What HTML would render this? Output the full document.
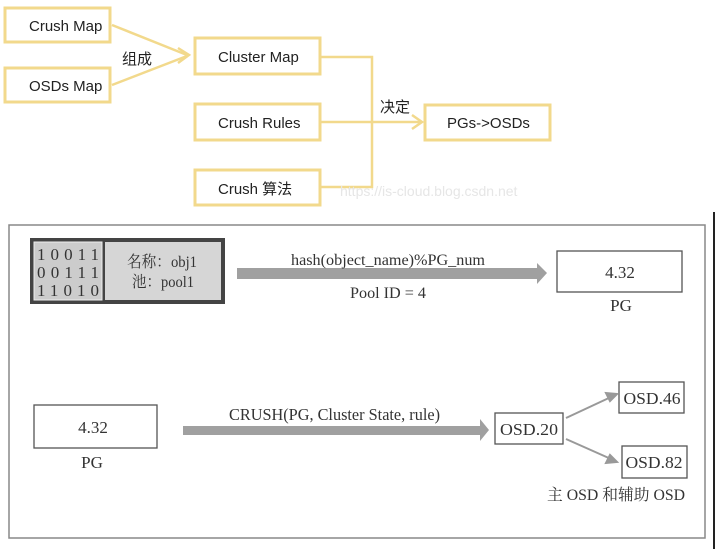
<!DOCTYPE html>
<html><head><meta charset="utf-8"><style>
html,body{margin:0;padding:0;background:#fff;}
svg{display:block;}
.y{fill:#fff;stroke:#f2d98c;stroke-width:3;}
.t{font-family:"Liberation Sans","Noto Sans CJK SC",sans-serif;font-size:15px;fill:#222;}
.s{font-family:"Liberation Serif","Noto Serif CJK SC",serif;fill:#333;}
.b{fill:#fff;stroke:#555;stroke-width:1.3;}
</style></head><body>
<svg width="717" height="549" viewBox="0 0 717 549" xmlns="http://www.w3.org/2000/svg">
<rect class="y" x="5" y="8" width="105" height="34"/>
<rect class="y" x="5" y="68" width="105" height="34"/>
<rect class="y" x="195" y="38" width="125" height="36"/>
<rect class="y" x="195" y="104" width="125" height="36"/>
<rect class="y" x="195" y="170" width="125" height="35"/>
<rect class="y" x="425" y="105" width="125" height="35"/>
<g stroke="#f2d98c" stroke-width="2.5" fill="none">
<line x1="112" y1="25" x2="187" y2="55"/>
<line x1="112" y1="85" x2="187" y2="56"/>
<polyline points="178,48 189,55 178,63"/>
<polyline points="320,57 372,57 372,187 320,187"/>
<line x1="320" y1="122" x2="420" y2="122"/>
<polyline points="412,115 422,122 412,129"/>
</g>
<text class="t" x="29" y="31">Crush Map</text>
<text class="t" x="29" y="91">OSDs Map</text>
<text class="t" x="218" y="62">Cluster Map</text>
<text class="t" x="218" y="128">Crush Rules</text>
<text class="t" x="218" y="194">Crush 算法</text>
<text class="t" x="447" y="128">PGs-&gt;OSDs</text>
<text class="t" x="122" y="64" font-size="16">组成</text>
<text class="t" x="380" y="112" font-size="16">决定</text>
<text x="340" y="196" font-family="Liberation Sans,sans-serif" font-size="14" fill="#e6e6e6">https://is-cloud.blog.csdn.net</text>
<line x1="714" y1="212" x2="714" y2="549" stroke="#222" stroke-width="2"/>
<rect x="9" y="225" width="696" height="313" fill="#fff" stroke="#888" stroke-width="1.5"/>
<rect x="30" y="238" width="195" height="66" fill="#444"/>
<rect x="34" y="242" width="68" height="58" fill="#ccc" stroke="#eee" stroke-width="1"/>
<rect x="105" y="242" width="116" height="58" fill="#d6d6d6"/>
<g class="s" font-size="17">
<text x="37" y="260" textLength="62" lengthAdjust="spacing">10011</text>
<text x="37" y="278" textLength="62" lengthAdjust="spacing">00111</text>
<text x="37" y="296" textLength="62" lengthAdjust="spacing">11010</text>
</g>
<text class="s" x="127" y="267" font-size="16" textLength="70" lengthAdjust="spacingAndGlyphs">名称：obj1</text>
<text class="s" x="132" y="287" font-size="16" textLength="62" lengthAdjust="spacingAndGlyphs">池：pool1</text>
<polygon points="237,268 537,268 537,263 547,273 537,284 537,279 237,279" fill="#a0a0a0"/>
<text class="s" x="291" y="265" font-size="16" textLength="194" lengthAdjust="spacingAndGlyphs">hash(object_name)%PG_num</text>
<text class="s" x="350" y="298" font-size="16" textLength="76" lengthAdjust="spacingAndGlyphs">Pool ID = 4</text>
<rect class="b" x="557" y="251" width="125" height="41"/>
<text class="s" x="620" y="278" font-size="17" text-anchor="middle">4.32</text>
<text class="s" x="621" y="311" font-size="17" text-anchor="middle">PG</text>
<rect class="b" x="34" y="405" width="123" height="43"/>
<text class="s" x="93" y="433" font-size="17" text-anchor="middle">4.32</text>
<text class="s" x="92" y="468" font-size="17" text-anchor="middle">PG</text>
<polygon points="183,426 480,426 480,419 489,430 480,441 480,435 183,435" fill="#a0a0a0"/>
<text class="s" x="229" y="420" font-size="17" textLength="211" lengthAdjust="spacingAndGlyphs">CRUSH(PG, Cluster State, rule)</text>
<rect class="b" x="495" y="413" width="68" height="31"/>
<text class="s" x="529" y="435" font-size="17" text-anchor="middle" textLength="58" lengthAdjust="spacingAndGlyphs">OSD.20</text>
<rect class="b" x="619" y="382" width="65" height="31"/>
<text class="s" x="652" y="404" font-size="17" text-anchor="middle" textLength="57" lengthAdjust="spacingAndGlyphs">OSD.46</text>
<rect class="b" x="622" y="446" width="65" height="32"/>
<text class="s" x="654" y="468" font-size="17" text-anchor="middle" textLength="57" lengthAdjust="spacingAndGlyphs">OSD.82</text>
<g stroke="#999" stroke-width="2" fill="#999">
<line x1="566" y1="418" x2="611" y2="397"/>
<polygon points="617,394 606,393 610,401"/>
<line x1="566" y1="439" x2="611" y2="459"/>
<polygon points="617,462 610,455 606,463"/>
</g>
<text class="s" x="547" y="500" font-size="16" fill="#555" textLength="138" lengthAdjust="spacingAndGlyphs">主 OSD 和辅助 OSD</text>
</svg>
</body></html>
